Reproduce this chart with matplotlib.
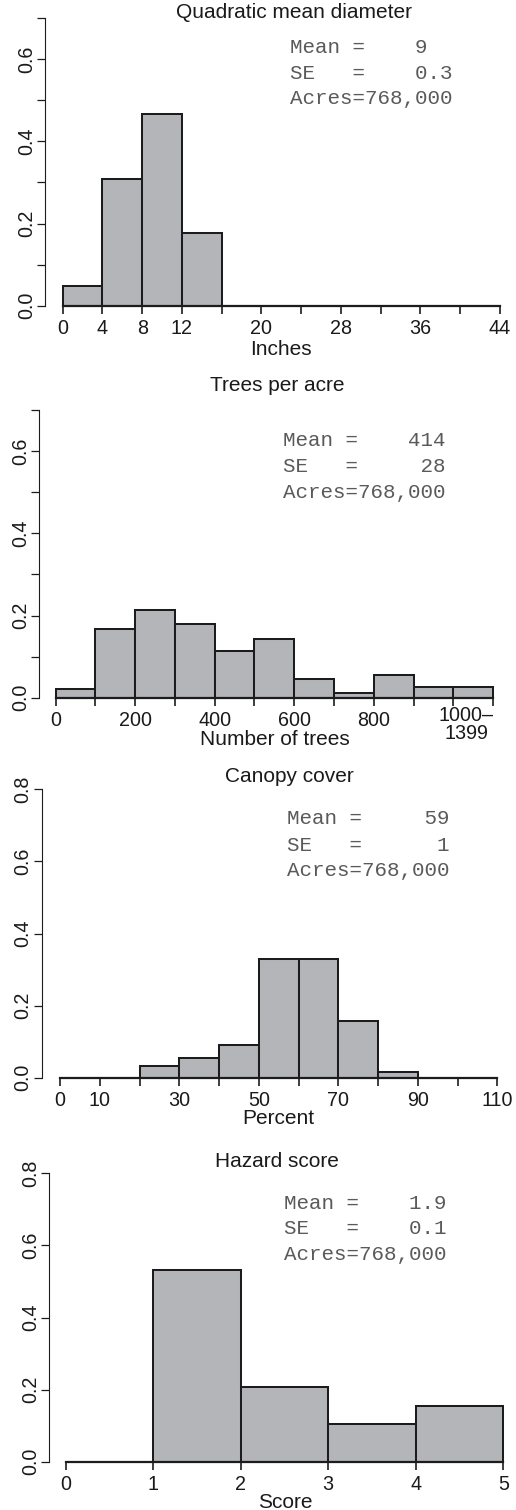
import numpy as np
import matplotlib
matplotlib.use("Agg")
import matplotlib.pyplot as plt
import matplotlib.transforms as mtransforms

# ---------------- data ----------------
qmd_edges = [0, 4, 8, 12, 16, 20, 24, 28, 32, 36, 40, 44]
qmd_props = [0.049, 0.308, 0.466, 0.176, 0, 0, 0, 0, 0, 0, 0]
qmd_ticklabels = ["0", "4", "8", "12", "", "20", "", "28", "", "36", "", "44"]
qmd_stats = ["Mean =    9", "SE   =    0.3", "Acres=768,000"]

tpa_edges = [0, 100, 200, 300, 400, 500, 600, 700, 800, 900, 1000, 1100]
tpa_props = [0.021, 0.168, 0.213, 0.179, 0.114, 0.143, 0.045, 0.011, 0.055, 0.025, 0.025]
tpa_ticklabels = ["0", "", "200", "", "400", "", "600", "", "800", "", "", ""]
tpa_last_label = "1000\u2013\n1399"
tpa_last_pos = 1032
tpa_stats = ["Mean =    414", "SE   =     28", "Acres=768,000"]

cc_edges = [0, 10, 20, 30, 40, 50, 60, 70, 80, 90, 100, 110]
cc_props = [0, 0, 0.033, 0.054, 0.091, 0.328, 0.330, 0.158, 0.015, 0, 0]
cc_ticklabels = ["0", "10", "", "30", "", "50", "", "70", "", "90", "", "110"]
cc_stats = ["Mean =     59", "SE   =      1", "Acres=768,000"]

hz_edges = [0, 1, 2, 3, 4, 5]
hz_props = [0, 0.532, 0.208, 0.105, 0.155]
hz_ticklabels = ["0", "1", "2", "3", "4", "5"]
hz_stats = ["Mean =    1.9", "SE   =    0.1", "Acres=768,000"]

titles = ["Quadratic mean diameter", "Trees per acre", "Canopy cover", "Hazard score"]
xlabels = ["Inches", "Number of trees", "Percent", "Score"]

# ---------------- style ----------------
W, H = 516, 1510
DPI = 100
SANS = ["Liberation Sans", "DejaVu Sans"]
MONO = ["Liberation Mono", "DejaVu Sans Mono"]
FILL = "#b4b5b9"
EDGE = "#1c1c1c"
TXT = "#1a1a1a"
STAT = "#5a5a5a"
TICK_FS = 14.2
LAB_FS = 15.0
STAT_FS = 15.0

plt.rcParams["font.family"] = SANS

fig = plt.figure(figsize=(W / DPI, H / DPI), dpi=DPI)

panels = [
    dict(edges=qmd_edges, props=qmd_props, tl=qmd_ticklabels, stats=qmd_stats,
         L=45.2, x0=62.7, s=9.9375, xhi=45.76, y0=305.7, s01=41.1, ymax=0.7,
         yticks=np.arange(0, 0.71, 0.1), ylab=["0.0", "", "0.2", "", "0.4", "", "0.6", ""],
         title=(293.5, 26.0), statx=290.0, staty=[53.3, 79.0, 104.3], xlab=355.0),
    dict(edges=tpa_edges, props=tpa_props, tl=tpa_ticklabels, stats=tpa_stats,
         L=39.3, x0=55.7, s=0.3976, xhi=1144, y0=697.7, s01=41.1, ymax=0.7,
         yticks=np.arange(0, 0.71, 0.1), ylab=["0.0", "", "0.2", "", "0.4", "", "0.6", ""],
         title=(277.7, 399.3), statx=283.3, staty=[446.5, 472.0, 497.5], xlab=745.0),
    dict(edges=cc_edges, props=cc_props, tl=cc_ticklabels, stats=cc_stats,
         L=41.7, x0=60.0, s=3.976, xhi=114.4, y0=1077.7, s01=36.05, ymax=0.8,
         yticks=np.arange(0, 0.81, 0.2), ylab=["0.0", "0.2", "0.4", "0.6", "0.8"],
         title=(289.5, 790.0), statx=287.3, staty=[824.5, 851.0, 875.5], xlab=1124.0),
    dict(edges=hz_edges, props=hz_props, tl=hz_ticklabels, stats=hz_stats,
         L=49.0, x0=65.7, s=87.52, xhi=5.2, y0=1461.7, s01=36.05, ymax=0.8,
         yticks=np.arange(0, 0.81, 0.2), ylab=["0.0", "0.2", "0.4", "0.6", "0.8"],
         title=(277.0, 1175.0), statx=284.3, staty=[1208.8, 1233.8, 1259.5], xlab=1508.5),
]

for i, p in enumerate(panels):
    xlo = -(p["x0"] - p["L"]) / p["s"]
    width_px = (p["xhi"] - xlo) * p["s"]
    height_px = p["ymax"] * 10 * p["s01"]
    ax = fig.add_axes([p["L"] / W, 1 - p["y0"] / H, width_px / W, height_px / H])
    ax.set_xlim(xlo, p["xhi"])
    ax.set_ylim(0, p["ymax"])
    ax.patch.set_visible(False)

    edges = np.array(p["edges"], dtype=float)
    ax.bar(edges[:-1], p["props"], width=np.diff(edges), align="edge",
           color=FILL, edgecolor=EDGE, linewidth=1.45, clip_on=False, zorder=2)

    for side in ("top", "right"):
        ax.spines[side].set_visible(False)
    ax.spines["left"].set_bounds(0, p["ymax"])
    ax.spines["left"].set_linewidth(0.8)
    ax.spines["left"].set_color(EDGE)
    ax.spines["bottom"].set_bounds(edges[0], edges[-1])
    ax.spines["bottom"].set_linewidth(1.6)
    ax.spines["bottom"].set_color(EDGE)
    ax.spines["bottom"].set_zorder(3)

    ax.set_xticks(edges)
    ax.set_xticklabels(p["tl"])
    ax.set_yticks(p["yticks"])
    ax.set_yticklabels(p["ylab"])
    ax.tick_params(axis="x", length=5.8, width=1.2, color=EDGE, pad=4.0,
                   labelsize=TICK_FS, labelcolor=TXT)
    ax.tick_params(axis="y", length=6.0, width=0.9, color=EDGE, pad=0.5,
                   labelsize=TICK_FS, labelcolor=TXT)
    for lbl in ax.get_yticklabels():
        lbl.set_rotation(90)
        lbl.set_va("center")
        lbl.set_ha("right")

    if i == 1:
        trans = mtransforms.blended_transform_factory(ax.transData, ax.transAxes)
        ax.text(tpa_last_pos, (p["y0"] - 705.5) / height_px, tpa_last_label,
                transform=trans, ha="center", va="top", fontsize=TICK_FS, color=TXT,
                linespacing=0.95, multialignment="center")

    tx, tb = p["title"]
    ax.set_title(titles[i], x=(tx - p["L"]) / width_px, y=(p["y0"] - tb) / height_px,
                 fontsize=LAB_FS, color=TXT, va="baseline", ha="center")

    ax.set_xlabel(xlabels[i], fontsize=LAB_FS, color=TXT)
    ax.xaxis.set_label_coords(0.5, (p["y0"] - p["xlab"]) / height_px)
    ax.xaxis.label.set_va("baseline")

    for line, yb in zip(p["stats"], p["staty"]):
        ax.text((p["statx"] - p["L"]) / width_px, (p["y0"] - yb) / height_px, line,
                transform=ax.transAxes, ha="left", va="baseline",
                family=MONO, fontsize=STAT_FS, color=STAT)

fig.savefig("out.png", dpi=DPI)
